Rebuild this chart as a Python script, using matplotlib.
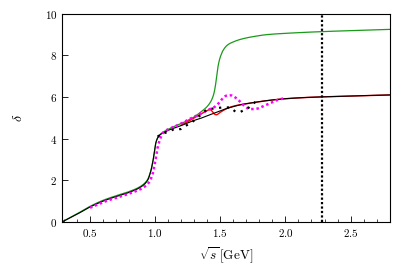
import matplotlib
matplotlib.use('Agg')
import matplotlib.pyplot as plt
from matplotlib.ticker import MultipleLocator
import numpy as np

plt.rcParams['font.family'] = 'serif'
plt.rcParams['font.serif'] = ['cmr10']
plt.rcParams['mathtext.fontset'] = 'cm'
plt.rcParams['axes.formatter.use_mathtext'] = True

# main black curve
x_black = [0.285, 0.4, 0.5, 0.6, 0.7, 0.8, 0.89, 0.94, 0.967, 0.985, 0.995, 1.005, 1.02, 1.04,
           1.07, 1.1, 1.15, 1.2, 1.25, 1.3, 1.35, 1.4, 1.45, 1.5, 1.55, 1.6, 1.65, 1.7,
           1.8, 1.9, 2.0, 2.2, 2.4, 2.6, 2.8]
y_black = [0.0, 0.37, 0.72, 1.0, 1.22, 1.42, 1.68, 1.98, 2.45, 3.0, 3.4, 3.8, 4.05, 4.2,
           4.3, 4.4, 4.52, 4.63, 4.76, 4.88, 4.98, 5.1, 5.22, 5.34, 5.45, 5.54, 5.62, 5.68,
           5.78, 5.86, 5.92, 5.99, 6.03, 6.07, 6.1]

# green curve (departs from black above 1.25)
x_green = [0.285, 0.4, 0.5, 0.6, 0.7, 0.8, 0.89, 0.94, 0.967, 0.985, 0.995, 1.005, 1.02, 1.04,
           1.07, 1.1, 1.15, 1.2, 1.25, 1.3, 1.35, 1.4, 1.43, 1.45, 1.465, 1.478, 1.49,
           1.503, 1.525, 1.555, 1.6, 1.66, 1.75, 1.86, 2.0, 2.27, 2.5, 2.8]
y_green = [0.0, 0.39, 0.75, 1.04, 1.26, 1.46, 1.72, 2.02, 2.48, 3.0, 3.4, 3.8, 4.05, 4.22,
           4.35, 4.45, 4.6, 4.73, 4.88, 5.05, 5.28, 5.55, 5.82, 6.15, 6.65, 7.3, 7.7,
           7.98, 8.28, 8.5, 8.65, 8.78, 8.9, 9.0, 9.06, 9.14, 9.19, 9.25]

# red curve (around the 1.5 GeV region)
x_red = [1.2, 1.25, 1.3, 1.35, 1.4, 1.42, 1.44, 1.455, 1.47, 1.5, 1.55, 1.6, 1.65, 1.7,
         1.8, 2.0, 2.2, 2.4, 2.6, 2.8]
y_red = [4.65, 4.82, 5.0, 5.18, 5.35, 5.4, 5.3, 5.18, 5.15, 5.27, 5.45, 5.56, 5.63, 5.68,
         5.78, 5.92, 5.99, 6.03, 6.07, 6.1]

# magenta dotted
x_mag = [0.5, 0.6, 0.7, 0.8, 0.9, 0.95, 0.98, 1.0, 1.02, 1.045, 1.07, 1.1, 1.145, 1.2,
         1.25, 1.3, 1.35, 1.4, 1.45, 1.49, 1.52, 1.55, 1.58, 1.61, 1.64, 1.68, 1.73,
         1.78, 1.83, 1.88, 1.95, 2.0]
y_mag = [0.68, 0.95, 1.16, 1.36, 1.62, 1.88, 2.3, 2.9, 3.6, 4.1, 4.35, 4.45, 4.57, 4.73,
         4.9, 5.05, 5.21, 5.37, 5.5, 5.72, 5.95, 6.07, 6.08, 6.0, 5.85, 5.6, 5.42,
         5.44, 5.56, 5.7, 5.88, 5.95]

# black dotted (data)
x_dat = [1.018, 1.06, 1.107, 1.145, 1.197, 1.235, 1.286, 1.348, 1.399, 1.45, 1.516,
         1.578, 1.617, 1.656, 1.72, 1.77]
y_dat = [4.1, 4.25, 4.34, 4.46, 4.46, 4.62, 4.81, 5.13, 5.41, 5.45, 5.5,
         5.5, 5.29, 5.29, 5.5, 5.77]

x_vline = 2.28


def smooth(x, y, n=400):
    # monotone piecewise cubic through the read points
    x = np.asarray(x, float)
    y = np.asarray(y, float)
    h = np.diff(x)
    d = np.diff(y) / h
    m = np.zeros_like(y)
    m[0], m[-1] = d[0], d[-1]
    for i in range(1, len(y) - 1):
        if d[i - 1] * d[i] <= 0:
            m[i] = 0.0
        else:
            w1 = 2 * h[i] + h[i - 1]
            w2 = h[i] + 2 * h[i - 1]
            m[i] = (w1 + w2) / (w1 / d[i - 1] + w2 / d[i])
    xs = np.linspace(x[0], x[-1], n)
    idx = np.clip(np.searchsorted(x, xs) - 1, 0, len(x) - 2)
    t = (xs - x[idx]) / h[idx]
    h00 = 2 * t**3 - 3 * t**2 + 1
    h10 = t**3 - 2 * t**2 + t
    h01 = -2 * t**3 + 3 * t**2
    h11 = t**3 - t**2
    ys = h00 * y[idx] + h10 * h[idx] * m[idx] + h01 * y[idx + 1] + h11 * h[idx] * m[idx + 1]
    return xs, ys


fig = plt.figure(figsize=(4.11, 2.70), dpi=100)
ax = fig.add_axes([0.151, 0.178, 0.797, 0.771])

ax.plot(*smooth(x_green, y_green), color='#1a9a1a', lw=0.9)
ax.plot(*smooth(x_red, y_red), color='red', lw=1.0)
ax.plot(*smooth(x_black, y_black), color='black', lw=0.8)
ax.plot(*smooth(x_mag, y_mag), color='magenta', lw=1.8, linestyle=(0, (1, 1.1)))
ax.plot(x_dat, y_dat, color='black', lw=1.6, linestyle=(0, (1, 2.5)))
ax.axvline(x_vline, color='black', lw=1.6, linestyle=(0, (1, 1)))

ax.set_xlim(0.285, 2.8)
ax.set_ylim(0, 10)
ax.xaxis.set_major_locator(MultipleLocator(0.5))
ax.xaxis.set_minor_locator(MultipleLocator(0.1))
ax.yaxis.set_major_locator(MultipleLocator(2))
ax.tick_params(which='both', direction='in', top=False, right=False, labelsize=8)
ax.tick_params(which='major', length=4.5, width=0.6)
ax.tick_params(which='minor', length=2.5, width=0.5)
for s in ax.spines.values():
    s.set_linewidth(0.8)

ax.set_xlabel(r'$\sqrt{s}\,$[GeV]', fontsize=9.5, labelpad=5)
ax.set_ylabel(r'$\delta$', fontsize=10, labelpad=14)

fig.savefig('out.png', dpi=100)
